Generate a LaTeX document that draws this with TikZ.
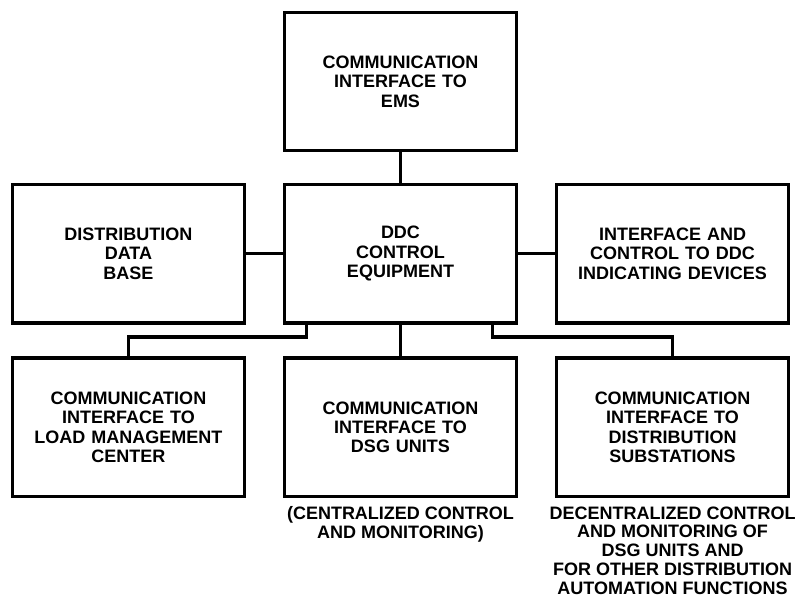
\documentclass[tikz,border=0pt]{standalone}
\usepackage{fontspec}
\setmainfont{Liberation Sans}
\usetikzlibrary{positioning}

\begin{document}
\begin{tikzpicture}[
    node distance=4.3cm,
    block/.style={rectangle, draw, line width=2.6pt, text width=5.5cm, minimum width=5.8cm, minimum height=3.45cm, align=center, font=\fontsize{12.8}{13.8}\selectfont\bfseries},
    note/.style={align=center, inner sep=0pt, font=\fontsize{12.8}{13.4}\selectfont\bfseries},
    link/.style={line width=2.6pt}
]
\useasboundingbox (-10.01,-8.61) rectangle (10.06,6.34);

% Middle row
\node[block] (ddc) {DDC\\CONTROL\\EQUIPMENT};
\node[block, left of=ddc, xshift=-2.5cm] (database) {DISTRIBUTION\\DATA\\BASE};
\node[block, right of=ddc, xshift=2.5cm] (indicating) {INTERFACE AND\\CONTROL TO DDC\\INDICATING DEVICES};

% Top box
\node[block, above of=ddc] (ems) {COMMUNICATION\\INTERFACE TO\\EMS};

% Bottom row
\node[block, below of=ddc, xshift=-6.8cm, yshift=-0.04cm] (load) {COMMUNICATION\\INTERFACE TO\\LOAD MANAGEMENT\\CENTER};
\node[block, below of=ddc, yshift=-0.04cm] (dsg) {COMMUNICATION\\INTERFACE TO\\DSG UNITS};
\node[block, below of=ddc, xshift=6.8cm, yshift=-0.04cm] (subst) {COMMUNICATION\\INTERFACE TO\\DISTRIBUTION\\SUBSTATIONS};

% Notes under boxes
\node[note, below=0.2cm of dsg] (central) {(CENTRALIZED CONTROL\\AND MONITORING)};
\node[note, below=0.2cm of subst] (decentral) {DECENTRALIZED CONTROL\\AND MONITORING OF\\DSG UNITS AND\\FOR OTHER DISTRIBUTION\\AUTOMATION FUNCTIONS};

% Connections
\draw[link] (ems) -- (ddc);
\draw[link] (database) -- (ddc);
\draw[link] (ddc) -- (indicating);
\draw[link] (ddc) -- (dsg);
\draw[link] ([xshift=-2.35cm]ddc.south) -- ++(0,-0.32) -| (load.north);
\draw[link] ([xshift=2.3cm]ddc.south) -- ++(0,-0.32) -| (subst.north);

\end{tikzpicture}
\end{document}
